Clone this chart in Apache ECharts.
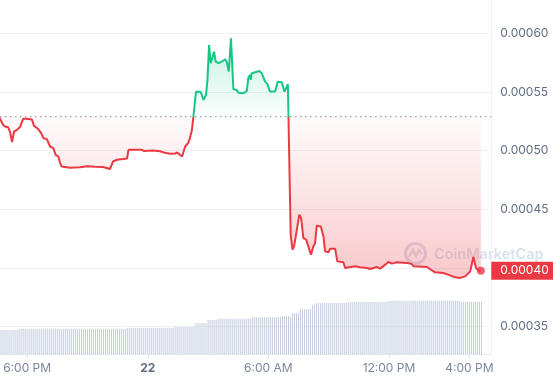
<!DOCTYPE html>
<html><head><meta charset="utf-8">
<script src="https://cdn.jsdelivr.net/npm/echarts@6/dist/echarts.min.js"></script>
<style>html,body{margin:0;padding:0;background:#fff}#c{width:553px;height:380px}</style>
</head><body><div id="c"></div>
<script>
// hours relative to 00:00 of day 22
const priceHours = [
-7.40,-7.20,-7.10,-6.95,-6.85,-6.75,-6.65,-6.50,-6.35,-6.20,
-6.05,-5.76,-5.66,-5.46,-5.31,-5.19,-5.02,-4.86,-4.70,-4.58,
-4.45,-4.36,-4.28,-3.87,-3.37,-3.02,-2.62,-2.22,-1.88,-1.73,
-1.53,-1.23,-1.03,-0.96,-0.63,-0.28,-0.18,0.26,0.61,0.86,
1.11,1.36,1.46,1.71,1.86,2.01,2.10,2.19,2.27,2.40,
2.64,2.77,2.90,2.97,3.05,3.13,3.20,3.30,3.38,3.51,
3.68,3.85,3.93,4.03,4.14,4.26,4.43,4.51,4.76,4.93,
5.00,5.09,5.12,5.17,5.34,5.55,5.67,5.84,5.95,6.08,
6.33,6.47,6.67,6.80,6.88,6.97,7.11,7.20,7.28,7.54,
7.63,7.74,7.88,7.99,8.12,8.24,8.32,8.41,8.61,8.74,
8.82,8.99,9.07,9.32,9.43,9.73,9.82,10.31,10.56,10.90,
11.06,11.39,11.56,11.81,11.97,12.14,12.39,12.89,13.13,13.21,
13.88,14.13,14.29,14.38,14.71,15.04,15.29,15.54,15.79,16.04,
16.20,16.33,16.45,16.57
];
const prices = [
0.0005290,0.0005220,0.0005205,0.0005200,0.0005160,0.0005072,0.0005163,0.0005177,0.0005203,0.0005271,
0.0005271,0.0005265,0.0005211,0.0005186,0.0005151,0.0005106,0.0005098,0.0005035,0.0005021,0.0004964,
0.0004950,0.0004894,0.0004865,0.0004854,0.0004858,0.0004866,0.0004862,0.0004860,0.0004843,0.0004907,
0.0004922,0.0004928,0.0004933,0.0005007,0.0005007,0.0005007,0.0004996,0.0005001,0.0004994,0.0004981,
0.0004973,0.0004975,0.0004984,0.0004950,0.0005035,0.0005064,0.0005109,0.0005169,0.0005287,0.0005503,
0.0005500,0.0005432,0.0005475,0.0005603,0.0005900,0.0005745,0.0005730,0.0005843,0.0005758,0.0005745,
0.0005758,0.0005779,0.0005758,0.0005673,0.0005957,0.0005523,0.0005517,0.0005494,0.0005489,0.0005509,
0.0005617,0.0005645,0.0005603,0.0005660,0.0005668,0.0005679,0.0005660,0.0005588,0.0005569,0.0005503,
0.0005503,0.0005588,0.0005583,0.0005503,0.0005532,0.0005566,0.0004283,0.0004156,0.0004184,0.0004454,
0.0004425,0.0004255,0.0004241,0.0004184,0.0004113,0.0004184,0.0004207,0.0004360,0.0004354,0.0004269,
0.0004141,0.0004133,0.0004164,0.0004164,0.0004056,0.0004048,0.0004000,0.0004014,0.0004005,0.0004000,
0.0003991,0.0004008,0.0003994,0.0004028,0.0004051,0.0004037,0.0004048,0.0004043,0.0004034,0.0004014,
0.0004008,0.0003980,0.0003963,0.0003977,0.0003957,0.0003937,0.0003920,0.0003915,0.0003928,0.0003971,
0.0004094,0.0004000,0.0003977,0.0003977
];
const baselinePrice = 0.000529;

const volumeStartHour = -7.3;
const volumeStepHour = 0.1;
const volumes = [
24.3,24.3,24.3,24.3,24.3,24.3,24.3,24.3,24.3,25.6,
25.6,25.6,25.6,25.6,25.6,25.6,25.6,25.6,25.6,25.6,
25.6,25.6,25.6,25.6,25.6,25.6,25.6,25.6,25.6,25.6,
25.6,25.6,25.6,25.6,25.6,25.6,25.6,25.6,25.6,25.6,
25.6,25.6,25.6,25.6,25.6,25.6,25.6,25.6,25.6,25.6,
25.6,25.6,25.6,25.6,25.6,25.6,25.6,25.6,25.6,25.6,
25.6,25.6,25.6,26.6,26.6,26.6,26.6,26.6,26.6,26.6,
26.6,26.6,26.6,26.6,26.6,26.6,26.6,26.6,26.6,26.6,
26.6,26.6,26.6,26.6,26.6,26.6,26.6,27.6,27.6,27.6,
27.6,27.6,27.6,27.6,27.6,27.6,27.6,31.0,31.0,31.0,
31.0,31.0,31.0,34.3,34.3,34.3,34.3,34.3,35.6,35.6,
35.6,35.6,35.6,35.6,35.6,35.6,35.6,35.6,35.6,35.6,
35.6,35.6,35.6,35.6,35.6,37.0,37.0,37.0,37.0,37.0,
37.0,37.0,37.0,37.0,37.0,37.0,37.4,37.0,37.0,37.0,
38.3,38.3,38.3,38.3,37.3,41.0,41.0,41.0,41.0,45.0,
45.0,45.0,45.0,45.0,45.0,49.3,49.3,51.3,51.3,51.3,
51.3,51.3,51.3,51.3,51.3,51.3,51.3,51.3,51.3,51.3,
51.3,51.3,52.3,52.3,52.3,52.3,52.3,52.3,52.3,52.3,
52.3,52.3,52.3,52.3,52.3,52.3,52.3,52.3,52.3,52.3,
52.3,52.3,52.3,53.6,53.6,53.6,53.6,53.6,53.6,53.6,
53.6,53.6,53.6,53.6,53.6,53.6,53.6,53.6,53.6,53.6,
53.6,53.6,53.6,53.6,53.6,53.6,53.6,53.6,53.6,53.6,
53.6,53.6,53.6,53.6,53.6,53.6,53.6,53.6,53.6,52.3,
52.3,52.3,52.3,52.3,52.3,52.3,52.3,52.3,52.3,52.3
];

const xTickHours = [-6, 0, 6, 12, 16];
const xTickLabels = ['6:00 PM', '22', '6:00 AM', '12:00 PM', '4:00 PM'];
const yTicks = [0.00035, 0.00040, 0.00045, 0.00050, 0.00055, 0.00060];

const GREEN = '#16c784', RED = '#ea3943';
const xMin = -7.35, xMax = 17.09;
const yMin = yTicks[0], yMax = yTicks[yTicks.length - 1];

const priceData = priceHours.map((h, i) => [h, prices[i]]);
const volumeData = volumes.map((v, i) => [volumeStartHour + i * volumeStepHour, v]);
const last = priceData[priceData.length - 1];
const baselineData = [[xMin, baselinePrice], [xMax, baselinePrice]];

const chart = echarts.init(document.getElementById('c'), null, {renderer: 'canvas'});

const areaGradient = new echarts.graphic.LinearGradient(0, 33, 0, 280, [
  {offset: 0, color: 'rgba(22,199,132,0.26)'},
  {offset: 0.338, color: 'rgba(22,199,132,0.02)'},
  {offset: 0.338, color: 'rgba(234,57,67,0.02)'},
  {offset: 1, color: 'rgba(234,57,67,0.28)'}
], true);

const wmColor = 'rgba(205,215,232,0.75)';

chart.setOption({
  animation: false,
  backgroundColor: '#ffffff',
  textStyle: {fontFamily: 'Inter, "Noto Sans", sans-serif'},
  grid: [
    {left: 0, right: 61.7, top: 33.3, bottom: 53.4, containLabel: false, outerBoundsMode: 'none'},
    {left: 0, right: 61.7, top: 0, bottom: 25.7, containLabel: false, outerBoundsMode: 'none'}
  ],
  xAxis: [
    {gridIndex: 0, type: 'value', min: xMin, max: xMax, show: false},
    {gridIndex: 1, type: 'value', min: xMin, max: xMax,
      axisLine: {show: true, onZero: false, lineStyle: {color: '#e6e9ee', width: 1}},
      axisTick: {show: true, customValues: xTickHours, length: 4, lineStyle: {color: '#dfe3e9'}},
      splitLine: {show: false},
      axisLabel: {
        customValues: xTickHours, margin: 8, color: '#7b869a', fontSize: 12,
        formatter: v => {
          const i = xTickHours.findIndex(t => Math.abs(t - v) < 1e-6);
          if (i < 0) return '';
          return i === 1 ? '{b|' + xTickLabels[i] + '}' : xTickLabels[i];
        },
        rich: {b: {fontWeight: 'bold', color: '#616e85', fontSize: 12}}
      }
    }
  ],
  yAxis: [
    {gridIndex: 0, type: 'value', position: 'right',
      min: yMin, max: yMax, interval: yTicks[1] - yTicks[0],
      axisLine: {show: false}, axisTick: {show: false},
      splitLine: {show: true, lineStyle: {color: '#eff1f4', width: 1}},
      axisLabel: {margin: 9, color: '#616e85', fontSize: 12, formatter: v => v.toFixed(5)}
    },
    {gridIndex: 1, type: 'value', position: 'right', min: 0, max: 354.3,
      axisLine: {show: true, onZero: false, lineStyle: {color: '#eff1f4', width: 1}},
      axisTick: {show: false}, axisLabel: {show: false}, splitLine: {show: false}
    },
    // current-price tag on the right
    {gridIndex: 0, type: 'value', position: 'right', offset: 0, min: yMin, max: yMax, z: 20,
      axisLine: {show: false}, axisTick: {show: false}, splitLine: {show: false},
      axisLabel: {customValues: [last[1]], margin: 0, formatter: v => v.toFixed(5),
        backgroundColor: RED, color: '#ffffff', fontSize: 12,
        padding: [3, 8, 2, 9], lineHeight: 13}
    }
  ],
  visualMap: {
    show: false, type: 'piecewise', seriesIndex: 1, dimension: 1,
    pieces: [{gt: 0, lt: baselinePrice, color: RED}, {gte: baselinePrice, lte: 1, color: GREEN}]
  },
  series: [
    {type: 'bar', xAxisIndex: 1, yAxisIndex: 1, data: volumeData, barWidth: 1,
      itemStyle: {color: '#c3ccdc'}, silent: true, z: 1},
    {type: 'line', xAxisIndex: 0, yAxisIndex: 0, data: priceData, showSymbol: false,
      lineStyle: {width: 2}, z: 3,
      areaStyle: {origin: baselinePrice, color: areaGradient, opacity: 1}
    },
    {type: 'scatter', xAxisIndex: 0, yAxisIndex: 0, data: [last], symbolSize: 8,
      itemStyle: {color: RED}, z: 5, silent: true},
    {type: 'line', xAxisIndex: 0, yAxisIndex: 0, data: baselineData, showSymbol: false,
      silent: true, z: 2, color: '#99a3b5',
      lineStyle: {color: '#99a3b5', type: [1.5, 3.5], width: 1.3}}
  ],
  graphic: [
    {type: 'group', left: 403, top: 241, z: 10, silent: true, children: [
      {type: 'circle', shape: {cx: 11.5, cy: 11.5, r: 10}, style: {fill: 'none', stroke: wmColor, lineWidth: 3}},
      {type: 'polyline', shape: {points: [[5, 15], [9, 8], [12, 14], [15, 8], [18, 12]]}, style: {fill: 'none', stroke: wmColor, lineWidth: 2.5}},
      {type: 'text', x: 30, y: 13, style: {text: 'CoinMarketCap', fill: wmColor, font: '600 14.5px Inter, sans-serif', verticalAlign: 'middle'}}
    ]}
  ]
});
</script></body></html>
